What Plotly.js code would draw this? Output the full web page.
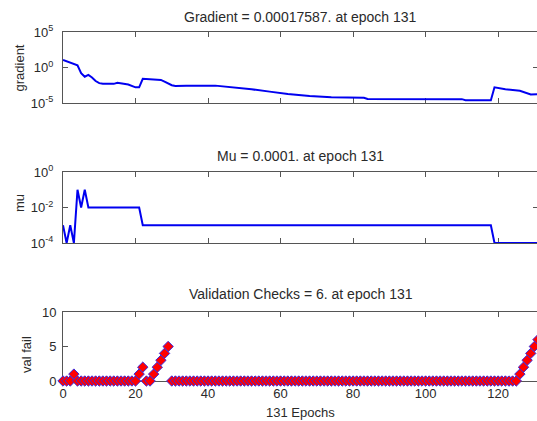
<!DOCTYPE html>
<html>
<head>
<meta charset="utf-8">
<script src="https://cdn.plot.ly/plotly-3.0.1.min.js"></script>
<style>
  html, body { margin: 0; padding: 0; overflow: hidden; background: #fff; }
  #chart { width: 540px; height: 421px; }
</style>
</head>
<body>
<div id="chart"></div>
<script>
// ---- data ----
const gradEpochs = [0, 3, 4, 5, 6, 7, 8, 9, 10, 11, 14, 15, 17, 18, 20, 21, 22, 26, 27, 28, 30, 31, 34, 42, 47, 52, 57, 62, 68, 74, 83, 84, 110, 111, 118, 119, 122, 126, 129, 131];
const gradValues = [11.5, 3.5, 2.0, 0.16, 0.05, 0.089, 0.04, 0.0126, 0.0063, 0.005, 0.005, 0.0071, 0.005, 0.004, 0.0016, 0.0016, 0.025, 0.022, 0.018, 0.01, 0.0032, 0.0025, 0.0028, 0.0028, 0.0016, 0.00085, 0.0004, 0.00019, 0.0001, 0.000063, 0.000056, 0.000038, 0.000035, 0.000025, 0.000024, 0.0016, 0.00085, 0.00054, 0.00016, 0.00017587];

const muEpochs = [0, 1, 2, 3, 4, 5, 6, 7, 21, 22, 118, 119, 131];
const muValues = [1e-3, 1e-4, 1e-3, 1e-4, 1e-1, 1e-2, 1e-1, 1e-2, 1e-2, 1e-3, 1e-3, 1e-4, 1e-4];

const valFail = [
  0, 0, 0, 1, 0, 0, 0, 0, 0, 0, 0, 0, 0, 0, 0, 0, 0, 0, 0, 0,
  0, 1, 2, 0, 0, 1, 2, 3, 4, 5,
  0, 0, 0, 0, 0, 0, 0, 0, 0, 0, 0, 0, 0, 0, 0, 0,
  0, 0, 0, 0, 0, 0, 0, 0, 0, 0, 0, 0, 0, 0, 0, 0,
  0, 0, 0, 0, 0, 0, 0, 0, 0, 0, 0, 0, 0, 0, 0, 0,
  0, 0, 0, 0, 0, 0, 0, 0, 0, 0, 0, 0, 0, 0, 0, 0,
  0, 0, 0, 0, 0, 0, 0, 0, 0, 0, 0, 0, 0, 0, 0, 0,
  0, 0, 0, 0, 0, 0, 0, 0, 0, 0, 0, 0, 0, 0, 0, 0,
  1, 2, 3, 4, 5, 6
];

const xTickVals = [0, 20, 40, 60, 80, 100, 120];
const xTickText = ['0', '20', '40', '60', '80', '100', '120'];
const gradTickVals = [1e-5, 1, 1e5];
const gradTickText = ['10<sup>-5</sup>', '10<sup>0</sup>', '10<sup>5</sup>'];
const muTickVals = [1e-4, 1e-2, 1];
const muTickText = ['10<sup>-4</sup>', '10<sup>-2</sup>', '10<sup>0</sup>'];
const valTickVals = [0, 5, 10];
const valTickText = ['0', '5', '10'];

const titles = ['Gradient = 0.00017587. at epoch 131', 'Mu = 0.0001. at epoch 131', 'Validation Checks = 6. at epoch 131'];
const yLabels = ['gradient', 'mu', 'val fail'];
const xLabel = '131 Epochs';

// ---- chart ----
const FONT = 'Liberation Sans, Arial, sans-serif';
const TXT = '#2a2a2a';
const AX = '#555';
const epochs = valFail.map((v, i) => i);

const traces = [
  { x: gradEpochs, y: gradValues, xaxis: 'x', yaxis: 'y', mode: 'lines',
    line: { color: '#0000f0', width: 2 }, hoverinfo: 'skip' },
  { x: muEpochs, y: muValues, xaxis: 'x2', yaxis: 'y2', mode: 'lines',
    line: { color: '#0000f0', width: 2 }, hoverinfo: 'skip' },
  { x: epochs, y: valFail, xaxis: 'x3', yaxis: 'y3', mode: 'markers', cliponaxis: false,
    marker: { symbol: 'diamond', size: 8, color: '#ff0000', line: { color: '#3a2ae0', width: 1 } },
    hoverinfo: 'skip' }
];

function xa(anchor, labels) {
  return {
    domain: [0, 1], anchor: anchor, range: [0, 131], showgrid: false, zeroline: false,
    showline: true, mirror: 'ticks', linecolor: AX, linewidth: 1,
    ticks: 'inside', ticklen: 5, tickcolor: AX, tickwidth: 1,
    tickvals: xTickVals, ticktext: xTickText, showticklabels: labels,
    tickfont: { family: FONT, size: 13, color: TXT }, layer: 'below traces'
  };
}
function ya(anchor, domain, type, range, tv, tt, standoff) {
  return {
    domain: domain, anchor: anchor, type: type, range: range, showgrid: false, zeroline: false,
    showline: true, mirror: 'ticks', linecolor: AX, linewidth: 1,
    ticks: 'inside', ticklen: 5, tickcolor: AX, tickwidth: 1,
    tickvals: tv, ticktext: tt, ticklabelstandoff: standoff,
    tickfont: { family: FONT, size: 13, color: TXT }, layer: 'below traces'
  };
}

const H = 349, BOT = 381, L = 63, W = 475;
const py = p => (BOT - p) / H;
const px = p => (p - L) / W;

function ann(text, x, y, size, angle) {
  return { text: text, xref: 'paper', yref: 'paper', x: x, y: y, xanchor: 'center', yanchor: 'middle',
    showarrow: false, textangle: angle || 0, font: { family: FONT, size: size, color: TXT } };
}

const layout = {
  width: 540, height: 421,
  margin: { l: 63, r: 2, t: 32, b: 40 },
  paper_bgcolor: '#fff', plot_bgcolor: '#fff',
  showlegend: false,
  xaxis: xa('y', false),
  xaxis2: xa('y2', false),
  xaxis3: xa('y3', true),
  yaxis: ya('x', [py(103), 1], 'log', [-5, 5], gradTickVals, gradTickText, 6),
  yaxis2: ya('x2', [py(243), py(172)], 'log', [-4, 0], muTickVals, muTickText, 6),
  yaxis3: ya('x3', [0, py(312)], 'linear', [0, 10], valTickVals, valTickText, 3),
  annotations: [
    ann(titles[0], 0.5, py(17), 14),
    ann(titles[1], 0.5, py(155.5), 14),
    ann(titles[2], 0.5, py(294), 14),
    ann(yLabels[0], px(19), py(68.5), 13, -90),
    ann(yLabels[1], px(19), py(203), 13, -90),
    ann(yLabels[2], px(26), py(355), 13, -90),
    ann(xLabel, 0.5, py(412), 13)
  ]
};

Plotly.newPlot('chart', traces, layout, { displayModeBar: false, staticPlot: true });
</script>
</body>
</html>
